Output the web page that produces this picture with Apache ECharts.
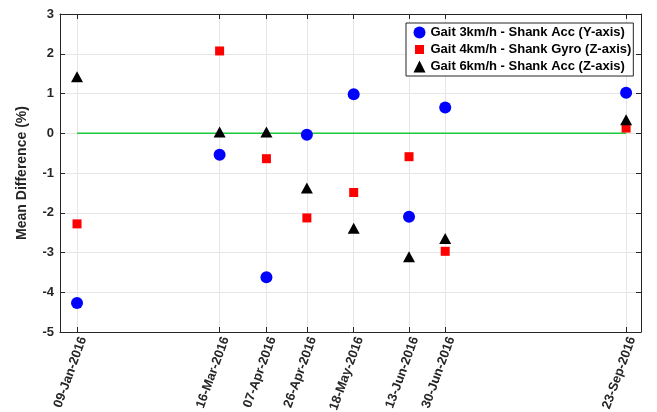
<!DOCTYPE html>
<html>
<head>
<meta charset="utf-8">
<script src="https://cdn.jsdelivr.net/npm/echarts@6/dist/echarts.min.js"></script>
<style>html,body{margin:0;padding:0;background:#fff;}#c{width:657px;height:412px;}</style>
</head>
<body>
<div id="c"></div>
<script>
const dates = ['2016-01-09','2016-03-16','2016-04-07','2016-04-26','2016-05-18','2016-06-13','2016-06-30','2016-09-23'];
const tickLabels = ['09-Jan-2016','16-Mar-2016','07-Apr-2016','26-Apr-2016','18-May-2016','13-Jun-2016','30-Jun-2016','23-Sep-2016'];
const gait3 = [-4.27, -0.54, -3.62, -0.04, 0.98, -2.10, 0.65, 1.02];
const gait4 = [-2.28, 2.07, -0.64, -2.13, -1.49, -0.59, -2.97, 0.13];
const gait6 = [1.42, 0.03, 0.03, -1.38, -2.39, -3.11, -2.65, 0.34];
const seriesNames = ['Gait 3km/h - Shank Acc (Y-axis)','Gait 4km/h - Shank Gyro (Z-axis)','Gait 6km/h - Shank Acc (Z-axis)'];

function ts(s){const p=s.split('-').map(Number);return Date.UTC(p[0],p[1]-1,p[2]);}
const xs = dates.map(ts);
const xMin = ts('2016-01-01'), xMax = ts('2016-09-30');
const axisColor = '#262626';
const gridColor = '#e6e6e6';
const font = 'Liberation Sans, Arial, sans-serif';

function pts(vals){return vals.map((v,i)=>[xs[i],v]);}

const chart = echarts.init(document.getElementById('c'));
chart.setOption({
  animation:false,
  grid:{left:60,top:14,right:16,bottom:80,containLabel:false,outerBoundsMode:'none'},
  legend:{
    orient:'vertical', left:406, top:23,
    padding:[3,2,3,6], itemGap:3, itemWidth:12, itemHeight:12,
    borderColor:axisColor, borderWidth:1, backgroundColor:'#fff',
    textStyle:{fontFamily:font,fontWeight:'bold',fontSize:13,color:'#000'},
    data:[{name:seriesNames[0],icon:'circle'},
          {name:seriesNames[1],icon:'rect',itemStyle:{borderColor:'#fff',borderWidth:3}},
          {name:seriesNames[2],icon:'triangle'}]
  },
  xAxis:[{
    type:'value', min:xMin, max:xMax, position:'bottom',
    axisLine:{show:true,onZero:false,lineStyle:{color:axisColor,width:1}},
    axisTick:{show:true,inside:true,length:5,customValues:xs,lineStyle:{color:axisColor}},
    axisLabel:{show:true,customValues:xs,rotate:70,margin:3,verticalAlign:'top',fontFamily:font,fontWeight:'bold',fontSize:13,color:axisColor,
      formatter:function(v){const i=xs.indexOf(v);return i>=0?tickLabels[i]:'';}},
    splitLine:{show:false}
  },{
    type:'value', min:xMin, max:xMax, position:'top',
    axisLine:{show:true,onZero:false,lineStyle:{color:axisColor,width:1}},
    axisTick:{show:true,inside:true,length:5,customValues:xs,lineStyle:{color:axisColor}},
    axisLabel:{show:false},
    splitLine:{show:false}
  }],
  yAxis:[{
    type:'value', min:-5, max:3, interval:1, position:'left',
    name:'Mean Difference (%)', nameLocation:'middle', nameGap:31,
    nameTextStyle:{fontFamily:font,fontWeight:'bold',fontSize:14,color:axisColor},
    axisLine:{show:true,onZero:false,lineStyle:{color:axisColor,width:1}},
    axisTick:{show:true,inside:true,length:5,lineStyle:{color:axisColor}},
    axisLabel:{fontFamily:font,fontWeight:'bold',fontSize:13,color:axisColor,margin:6},
    splitLine:{show:true,lineStyle:{color:gridColor,width:1}}
  },{
    type:'value', min:-5, max:3, interval:1, position:'right',
    axisLine:{show:true,onZero:false,lineStyle:{color:axisColor,width:1}},
    axisTick:{show:true,inside:true,length:5,lineStyle:{color:axisColor}},
    axisLabel:{show:false},
    splitLine:{show:false}
  }],
  series:[{
    type:'line', name:'zero', silent:true, symbol:'none', z:1,
    data:[[xs[0],0],[xs[xs.length-1],0]],
    lineStyle:{color:'#1fc83c',width:1.6},
    markLine:{silent:true,symbol:'none',z:0,label:{show:false},
      lineStyle:{color:gridColor,width:1,type:'solid'},
      emphasis:{disabled:true},
      data:xs.map(x=>({xAxis:x}))}
  },{
    type:'scatter', name:seriesNames[0], symbol:'circle', symbolSize:12, z:3,
    itemStyle:{color:'#0000ff',opacity:1}, data:pts(gait3)
  },{
    type:'scatter', name:seriesNames[1], symbol:'rect', symbolSize:9, z:3,
    itemStyle:{color:'#ff0000',opacity:1}, data:pts(gait4)
  },{
    type:'scatter', name:seriesNames[2], symbol:'triangle', symbolSize:[12,11], z:4,
    itemStyle:{color:'#000000',opacity:1}, data:pts(gait6)
  }]
});
</script>
</body>
</html>
